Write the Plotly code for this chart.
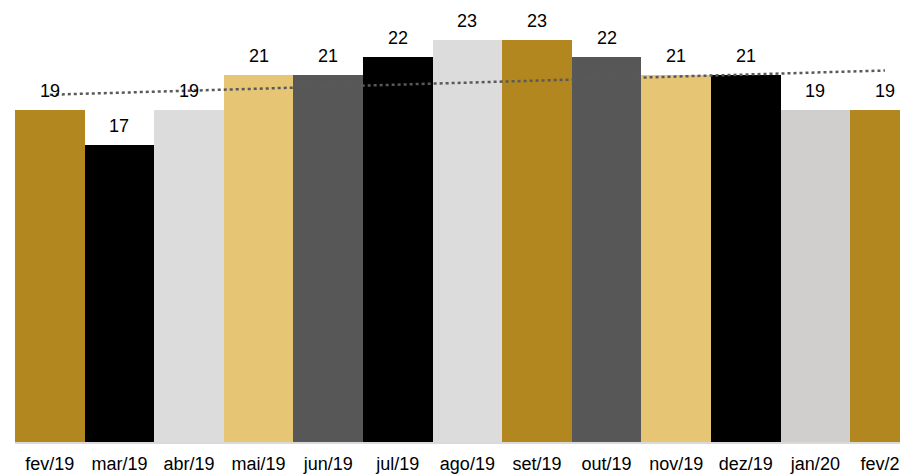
import numpy as np
import plotly.graph_objects as go

months = ["fev/19", "mar/19", "abr/19", "mai/19", "jun/19", "jul/19", "ago/19",
          "set/19", "out/19", "nov/19", "dez/19", "jan/20", "fev/20"]
values = [19, 17, 19, 21, 21, 22, 23, 23, 22, 21, 21, 19, 19]
colors = ["#B3871F", "#000000", "#DCDCDC", "#E6C574", "#575757", "#000000", "#DCDCDC",
          "#B3871F", "#575757", "#E6C574", "#000000", "#D0CFCD", "#B3871F"]

idx = np.arange(len(values))
slope, intercept = np.polyfit(idx, values, 1)
trend = intercept + slope * idx

fig = go.Figure()
fig.add_trace(go.Bar(x=months, y=values, marker=dict(color=colors, line=dict(width=0)),
                     width=1.0, hoverinfo="skip"))
fig.add_trace(go.Scatter(x=months, y=trend, mode="lines",
                         line=dict(color="#595959", width=2.5, dash="dot"), hoverinfo="skip"))

for m, v in zip(months, values):
    fig.add_annotation(x=m, y=v, text=str(v), showarrow=False, yshift=19,
                       font=dict(size=18, color="#000000", family="Liberation Sans, Arial"))

fig.update_layout(
    width=900, height=474,
    margin=dict(l=15, r=0, t=0, b=32, autoexpand=False),
    plot_bgcolor="white", paper_bgcolor="white",
    showlegend=False, bargap=0,
    font=dict(family="Liberation Sans, Arial", size=18, color="#000000"),
    xaxis=dict(type="category", range=[-0.5, 12.216], showgrid=False, zeroline=False,
               showline=True, linecolor="#D9D9D9", linewidth=2, ticks="",
               ticklabelstandoff=4, automargin=False,
               tickfont=dict(size=18, color="#000000")),
    yaxis=dict(range=[0, 25.26], visible=False, showgrid=False, zeroline=False),
)

fig.write_html("out.html", config={"displayModeBar": False},
               post_script="document.body.style.margin='0';document.body.style.overflow='hidden';")
